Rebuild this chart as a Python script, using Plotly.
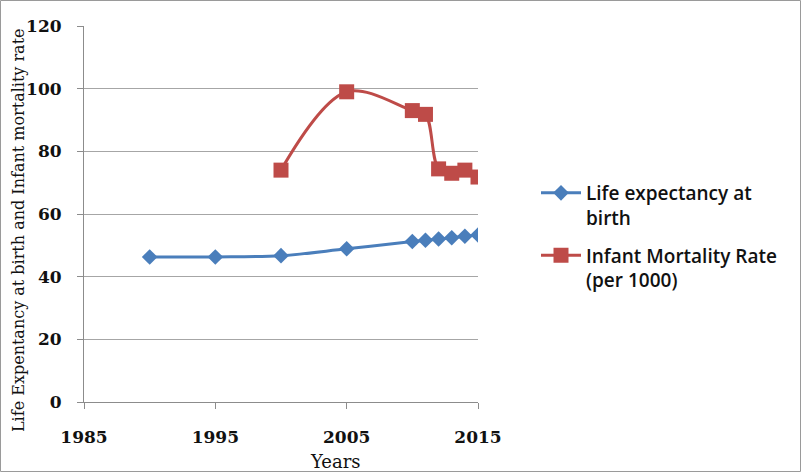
import plotly.graph_objects as go

le_years = [1990, 1995, 2000, 2005, 2010, 2011, 2012, 2013, 2014, 2015]
life_expectancy = [46.3, 46.3, 46.7, 48.9, 51.2, 51.6, 52.0, 52.4, 52.9, 53.3]

imr_years = [2000, 2005, 2010, 2011, 2012, 2013, 2014, 2015]
infant_mortality = [74.0, 99.0, 93.0, 91.8, 74.4, 73.0, 74.0, 71.8]

L, R, T, B = 84, 323, 26, 70
W, H = 801, 472
pw, ph = W - L - R, H - T - B


def px_x(p):
    return (p - L) / pw


def px_y(p):
    return (H - B - p) / ph


fig = go.Figure()
fig.add_trace(go.Scatter(
    x=le_years, y=life_expectancy, name="Life expectancy at<br>birth",
    legendgroup="le",
    mode="lines+markers", line=dict(color="#4A7EBB", width=3, shape="spline"),
    marker=dict(symbol="diamond", size=12, color="#4A7EBB"),
))
fig.add_trace(go.Scatter(
    x=imr_years, y=infant_mortality, name="Infant Mortality Rate<br>(per 1000)",
    legendgroup="imr",
    mode="lines+markers", line=dict(color="#BE4B48", width=3, shape="spline"),
    marker=dict(symbol="square", size=15, color="#BE4B48"),
))

serif = "DejaVu Serif"
fig.update_layout(
    width=W, height=H,
    paper_bgcolor="white", plot_bgcolor="white",
    margin=dict(l=L, r=R, t=T, b=B),
    legend=dict(x=px_x(536), y=px_y(174), xanchor="left", yanchor="top",
                font=dict(family="Open Sans", size=19, color="#111", weight=600),
                tracegroupgap=10, valign="top", itemwidth=40),
    shapes=[dict(type="rect", xref="paper", yref="paper",
                 x0=px_x(0.5), x1=px_x(W - 0.5),
                 y0=px_y(H - 0.5), y1=px_y(0.5),
                 line=dict(color="#9a9a9a", width=1), layer="below")],
    annotations=[
        dict(text="Years", xref="paper", yref="paper", x=px_x(335), y=px_y(461),
             xanchor="center", yanchor="middle",
             showarrow=False, font=dict(family=serif, size=18, color="#111")),
        dict(text="Life Expentancy at birth and Infant mortality rate", textangle=-90,
             xref="paper", yref="paper", x=px_x(18), y=px_y(230),
             xanchor="center", yanchor="middle",
             showarrow=False, font=dict(family=serif, size=16, color="#111")),
    ],
)
fig.update_xaxes(
    range=[1985, 2015], dtick=10, tick0=1985, showgrid=False,
    showline=True, linecolor="#8c8c8c", linewidth=1,
    ticks="outside", ticklen=6, tickcolor="#8c8c8c", ticklabelstandoff=14,
    tickfont=dict(family=serif, size=17, color="#111", weight="bold"),
)
fig.update_yaxes(
    range=[0, 120], dtick=20, showgrid=True, gridcolor="#a6a6a6", gridwidth=1,
    showline=True, linecolor="#8c8c8c", linewidth=1, zeroline=False,
    ticks="outside", ticklen=6, tickcolor="#8c8c8c", ticklabelstandoff=12,
    tickfont=dict(family=serif, size=17, color="#111", weight="bold"),
)

fig.write_html("out.html", config={"displayModeBar": False},
               post_script="document.body.style.margin='0';")
